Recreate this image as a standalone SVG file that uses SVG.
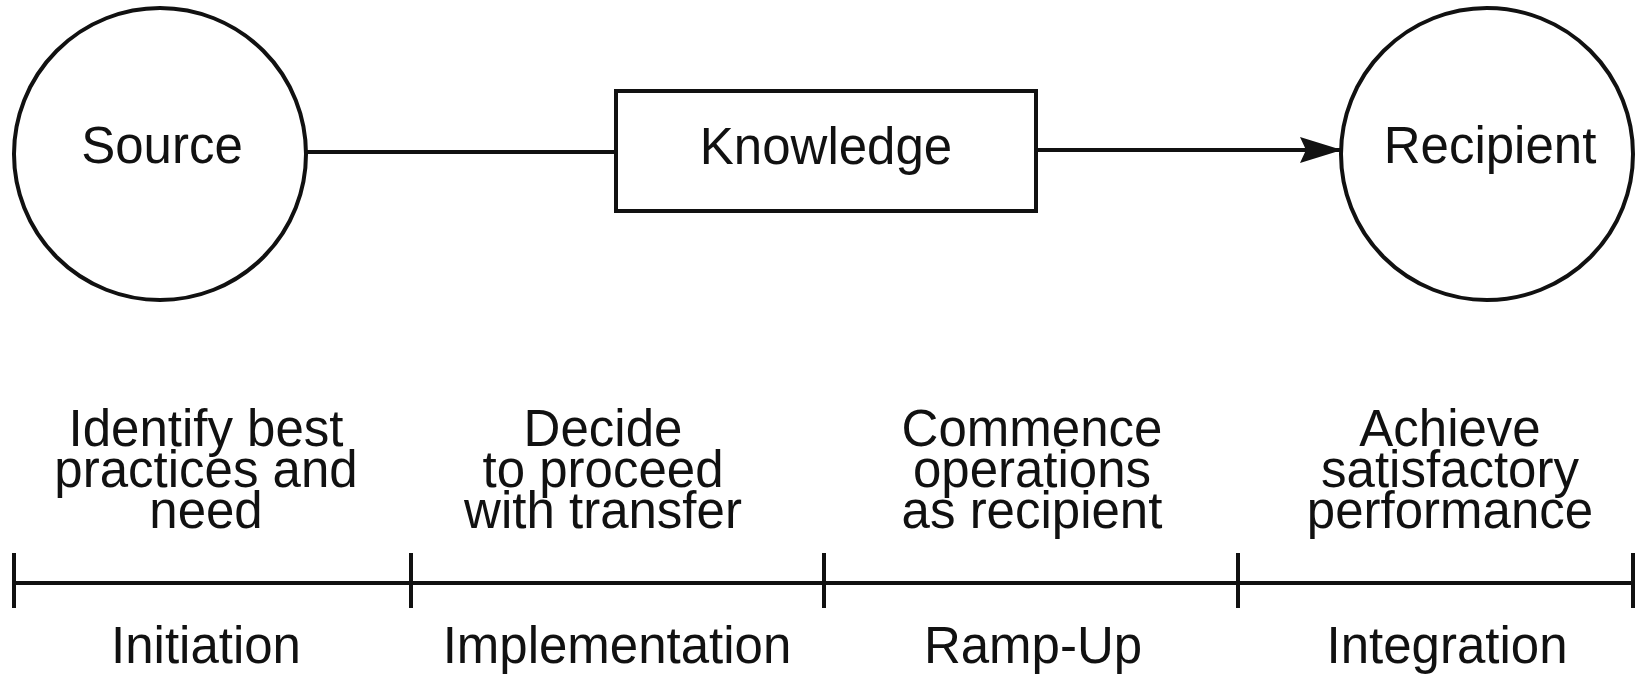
<svg xmlns="http://www.w3.org/2000/svg" width="1641" height="675" viewBox="0 0 1641 675">
<style>
.shape{fill:#fff;stroke:#111;stroke-width:4}
.ln{fill:none;stroke:#111;stroke-width:4}
text{font-family:"Liberation Sans",Arial,sans-serif;font-size:51px;fill:#111;text-anchor:middle}
</style>
<defs>
<marker id="arr" viewBox="0 0 42 26" refX="42" refY="13" markerWidth="42" markerHeight="26" markerUnits="userSpaceOnUse" orient="auto">
<path d="M0,0 L42,13 L0,26 L6,13 Z" fill="#111"/>
</marker>
</defs>
<rect width="1641" height="675" fill="#fff"/>
<g id="connectors">
<line class="ln" x1="306" y1="152" x2="616" y2="152"/>
<line class="ln" x1="1036" y1="150" x2="1342" y2="150" marker-end="url(#arr)"/>
<line class="ln" x1="13" y1="583" x2="1634" y2="583"/>
<line class="ln" x1="14" y1="553" x2="14" y2="608"/>
<line class="ln" x1="411" y1="553" x2="411" y2="608"/>
<line class="ln" x1="824" y1="553" x2="824" y2="608"/>
<line class="ln" x1="1238" y1="553" x2="1238" y2="608"/>
<line class="ln" x1="1633" y1="553" x2="1633" y2="608"/>
</g>
<g id="source">
<circle class="shape" cx="160" cy="154" r="146"/>
<text x="162" y="163">Source</text>
</g>
<g id="knowledge">
<rect class="shape" x="616" y="91" width="420" height="120"/>
<text x="826" y="164">Knowledge</text>
</g>
<g id="recipient">
<circle class="shape" cx="1487" cy="154" r="146"/>
<text x="1490" y="163">Recipient</text>
</g>
<g id="initiation">
<text x="206" y="446">Identify best</text>
<text x="206" y="487">practices and</text>
<text x="206" y="528">need</text>
<text x="206" y="663">Initiation</text>
</g>
<g id="implementation">
<text x="603" y="446">Decide</text>
<text x="603" y="487">to proceed</text>
<text x="603" y="528">with transfer</text>
<text x="617" y="663">Implementation</text>
</g>
<g id="rampup">
<text x="1032" y="446">Commence</text>
<text x="1032" y="487">operations</text>
<text x="1032" y="528">as recipient</text>
<text x="1033" y="663">Ramp-Up</text>
</g>
<g id="integration">
<text x="1450" y="446">Achieve</text>
<text x="1450" y="487">satisfactory</text>
<text x="1450" y="528">performance</text>
<text x="1447" y="663">Integration</text>
</g>
</svg>
